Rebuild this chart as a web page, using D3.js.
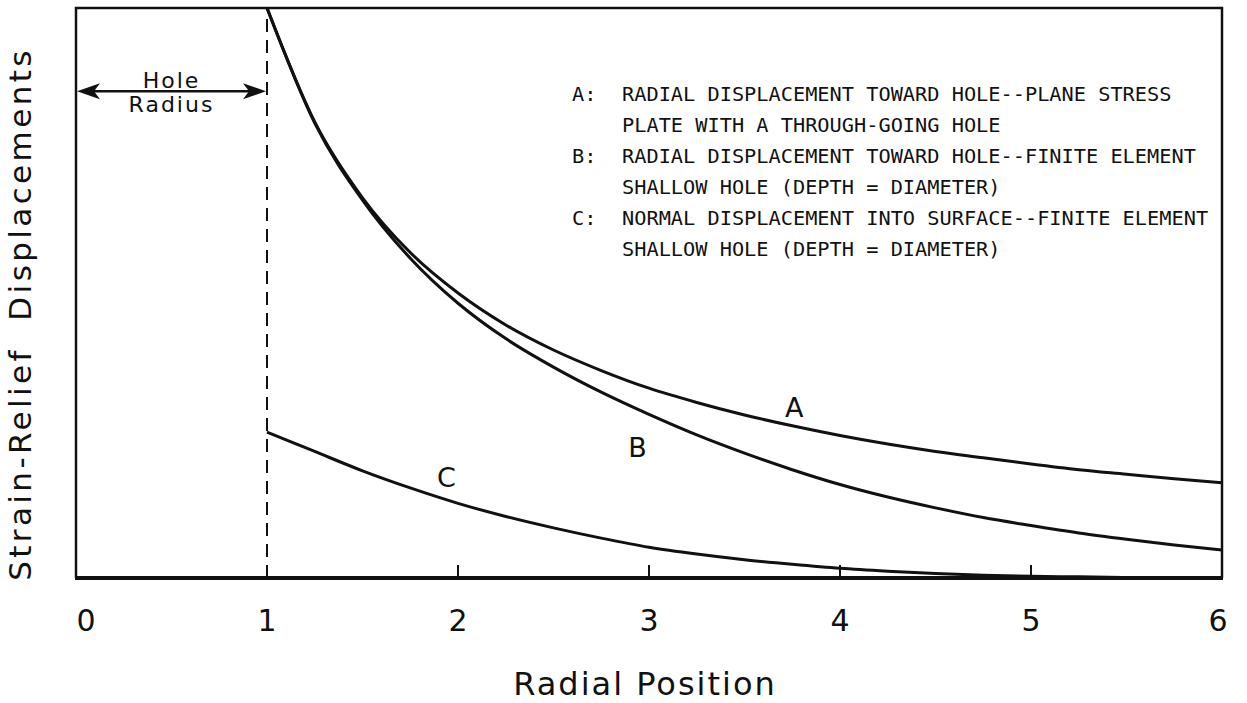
<!DOCTYPE html>
<html>
<head>
<meta charset="utf-8">
<script src="https://cdn.jsdelivr.net/npm/d3@7"></script>
<style>
  body { margin: 0; background: #fff; }
  svg { display: block; }
  .sans { font-family: "DejaVu Sans", sans-serif; fill: #111; letter-spacing: 2px; }
  .mono { font-family: "DejaVu Sans Mono", monospace; fill: #111; }
</style>
</head>
<body>
<div id="chart"></div>
<script>
// radial position (in hole radii) and the three displacement curves
const radialPos = [1.0, 1.25, 1.5, 1.75, 2.0, 2.25, 2.5, 2.75, 3.0, 3.25, 3.5, 3.75, 4.0, 4.25, 4.5, 4.75, 5.0, 5.25, 5.5, 5.75, 6.0];
const curveA = [1.0, 0.8, 0.667, 0.571, 0.5, 0.444, 0.4, 0.364, 0.333, 0.308, 0.286, 0.267, 0.25, 0.235, 0.222, 0.211, 0.2, 0.19, 0.182, 0.174, 0.167];
const curveB = [1.0, 0.798, 0.663, 0.561, 0.482, 0.42, 0.37, 0.326, 0.287, 0.251, 0.219, 0.19, 0.164, 0.142, 0.123, 0.106, 0.092, 0.079, 0.068, 0.058, 0.049];
const curveC = [0.256, 0.222, 0.188, 0.158, 0.131, 0.108, 0.088, 0.07, 0.054, 0.042, 0.032, 0.024, 0.017, 0.012, 0.008, 0.005, 0.003, 0.002, 0.001, 0.0005, 0.0];

const xTicks = [0, 1, 2, 3, 4, 5, 6];
const innerTicks = [2, 3, 4, 5];
const holeRadius = 1;

const curveLabels = [
  { name: "A", r: 3.76, v: 0.30 },
  { name: "B", r: 2.94, v: 0.23 },
  { name: "C", r: 1.94, v: 0.177 }
];

const legendLines = [
  ["A:", "RADIAL DISPLACEMENT TOWARD HOLE--PLANE STRESS"],
  ["", "PLATE WITH A THROUGH-GOING HOLE"],
  ["B:", "RADIAL DISPLACEMENT TOWARD HOLE--FINITE ELEMENT"],
  ["", "SHALLOW HOLE (DEPTH = DIAMETER)"],
  ["C:", "NORMAL DISPLACEMENT INTO SURFACE--FINITE ELEMENT"],
  ["", "SHALLOW HOLE (DEPTH = DIAMETER)"]
];

const w = 1247;
const h = 703;
const padL = 76, padR = 1222, padT = 8, padB = 578;

const svg = d3.select("#chart").append("svg").attr("width", w).attr("height", h);

const xScale = d3.scaleLinear().domain([0, 6]).range([padL, padR]);
const yScale = d3.scaleLinear().domain([0, 1]).range([padB, padT]);

// frame
svg.append("path")
  .attr("d", `M${padL},${padB} L${padL},${padT} L${padR},${padT} L${padR},${padB}`)
  .attr("fill", "none").attr("stroke", "#111").attr("stroke-width", 2.5);
svg.append("line")
  .attr("x1", padL - 1).attr("x2", padR + 1)
  .attr("y1", padB).attr("y2", padB)
  .attr("stroke", "#111").attr("stroke-width", 4);

// inner tick marks
svg.selectAll(".tick-mark")
  .data(innerTicks)
  .enter()
  .append("line")
  .attr("class", "tick-mark")
  .attr("x1", (d) => xScale(d)).attr("x2", (d) => xScale(d))
  .attr("y1", padB).attr("y2", padB - 13)
  .attr("stroke", "#111").attr("stroke-width", 2);

// tick labels
svg.selectAll(".xlab")
  .data(xTicks)
  .enter()
  .append("text")
  .attr("class", "xlab sans")
  .attr("x", (d) => xScale(d))
  .attr("dx", (d) => (d === 0 ? 10 : d === 6 ? -4 : 0))
  .attr("y", 631)
  .attr("text-anchor", "middle")
  .style("font-size", "30px")
  .style("letter-spacing", "0px")
  .text((d) => d);

// axis titles
svg.append("text")
  .attr("class", "sans")
  .attr("x", 645).attr("y", 695)
  .attr("text-anchor", "middle")
  .style("font-size", "32px")
  .text("Radial Position");

svg.append("text")
  .attr("class", "sans")
  .attr("transform", "translate(31,314) rotate(-90)")
  .attr("text-anchor", "middle")
  .style("font-size", "31px")
  .style("white-space", "pre")
  .style("letter-spacing", "3.4px")
  .text("Strain-Relief  Displacements");

// hole radius dashed line
svg.append("line")
  .attr("x1", xScale(holeRadius)).attr("x2", xScale(holeRadius))
  .attr("y1", yScale(0)).attr("y2", yScale(1) + 4)
  .attr("stroke", "#111").attr("stroke-width", 2)
  .attr("stroke-dasharray", "13,8");

// double arrow for hole radius
const arrowY = yScale(0.854);
const x0 = xScale(0) + 1, x1 = xScale(holeRadius) - 1;
svg.append("line")
  .attr("x1", x0 + 10).attr("x2", x1 - 10)
  .attr("y1", arrowY).attr("y2", arrowY)
  .attr("stroke", "#111").attr("stroke-width", 2.5);
svg.append("path")
  .attr("d", `M${x0},${arrowY} L${x0 + 23},${arrowY - 8} L${x0 + 17},${arrowY} L${x0 + 23},${arrowY + 8} Z`)
  .attr("fill", "#111");
svg.append("path")
  .attr("d", `M${x1},${arrowY} L${x1 - 23},${arrowY - 8} L${x1 - 17},${arrowY} L${x1 - 23},${arrowY + 8} Z`)
  .attr("fill", "#111");
svg.append("text")
  .attr("class", "sans")
  .attr("x", (x0 + x1) / 2).attr("y", arrowY - 3)
  .attr("text-anchor", "middle")
  .style("font-size", "22px")
  .text("Hole");
svg.append("text")
  .attr("class", "sans")
  .attr("x", (x0 + x1) / 2).attr("y", arrowY + 21)
  .attr("text-anchor", "middle")
  .style("font-size", "22px")
  .text("Radius");

// curves
const line = d3.line()
  .x((d) => xScale(d[0]))
  .y((d) => yScale(d[1]))
  .curve(d3.curveMonotoneX);

[curveA, curveB, curveC].forEach((vals) => {
  svg.append("path")
    .datum(radialPos.map((r, i) => [r, vals[i]]))
    .attr("d", line)
    .attr("fill", "none")
    .attr("stroke", "#111")
    .attr("stroke-width", 3)
    .attr("stroke-linejoin", "round");
});

// curve labels
svg.selectAll(".clab")
  .data(curveLabels)
  .enter()
  .append("text")
  .attr("class", "clab sans")
  .attr("x", (d) => xScale(d.r))
  .attr("y", (d) => yScale(d.v))
  .attr("dy", "0.36em")
  .attr("text-anchor", "middle")
  .style("font-size", "27px")
  .style("letter-spacing", "0px")
  .text((d) => d.name);

// legend text
const legend = svg.append("g");
legendLines.forEach((ln, i) => {
  const y = 101 + 31 * i;
  if (ln[0]) {
    legend.append("text").attr("class", "mono")
      .attr("x", 572).attr("y", y)
      .style("font-size", "20.3px")
      .text(ln[0]);
  }
  legend.append("text").attr("class", "mono")
    .attr("x", 622).attr("y", y)
    .style("font-size", "20.3px")
    .text(ln[1]);
});
</script>
</body>
</html>
